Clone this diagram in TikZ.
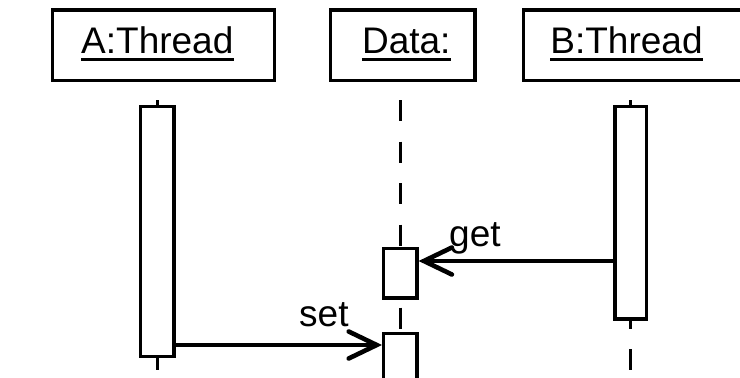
\documentclass[tikz,border=0pt]{standalone}
\usepackage{fontspec}
\setmainfont{Liberation Sans}
\usetikzlibrary{arrows.meta}
\begin{document}
\begin{tikzpicture}[x=1pt,y=-1pt,
  hdr/.style={draw, line width=3.3pt, inner sep=0pt},
  act/.style={draw, fill=white, line width=3.3pt, inner sep=0pt},
  lbl/.style={font=\fontsize{37}{40}\selectfont, inner sep=0pt, anchor=base},
  msglbl/.style={font=\fontsize{37}{40}\selectfont, inner sep=0pt, anchor=base west},
  uline/.style={line width=2.3pt},
  life/.style={line width=3.3pt, dash pattern=on 21pt off 20.5pt},
  msg/.style={line width=3.3pt, -{Straight Barb[length=28pt,width=27pt,line width=4.6pt,line cap=round]}},
]
\useasboundingbox (0,0) rectangle (740,378);
\clip (0,0) rectangle (740,378);
\fill[white] (0,0) rectangle (740,378);

% header boxes
\node[hdr, minimum width=222pt, minimum height=70.7pt] (hA) at (163.3,45.3) {};
\node[hdr, minimum width=144.3pt, minimum height=70.7pt] (hD) at (402.8,45.3) {};
\node[hdr, minimum width=300pt, minimum height=70.7pt] (hB) at (673.3,45.3) {};

% header labels
\node[lbl] (lA) at (157.3,53.5) {A:Thread};
\node[lbl] (lD) at (406.3,53.5) {Data:};
\node[lbl] (lB) at (626.5,53.5) {B:Thread};
\foreach \n in {lA,lD,lB}
  \draw[uline] ([yshift=-6pt]\n.base west) -- ([yshift=-6pt]\n.base east);

% lifelines
\coordinate (tA) at (157.3,100);
\coordinate (tD) at (400.3,100);
\coordinate (tB) at (630.8,100);
\coordinate (eA) at (157.3,378);
\coordinate (eD) at (400.3,378);
\coordinate (eB) at (630.8,378);
\draw[life] (tA) -- (eA);
\draw[life] (tD) -- (eD);
\draw[life] (tB) -- (eB);

% activations
\node[act, minimum width=33.3pt, minimum height=250pt] (aA) at (157.3,231.7) {};
\node[act, minimum width=31.7pt, minimum height=212.3pt] (aB) at (630.8,212.8) {};
\node[act, minimum width=33.3pt, minimum height=49.3pt] (aD1) at (400.3,273.3) {};
\node[act, minimum width=33.3pt, minimum height=60pt] (aD2) at (400.3,363.7) {};

% messages
\coordinate (yget) at (0,261);
\coordinate (yset) at (0,345);
\draw[msg] (aB.west |- yget) -- (aD1.east |- yget);
\draw[msg] (aA.east |- yset) -- (aD2.west |- yset);
\node[msglbl] (get) at (449,246.5) {get};
\node[msglbl] (set) at (299,326) {set};
\end{tikzpicture}
\end{document}
